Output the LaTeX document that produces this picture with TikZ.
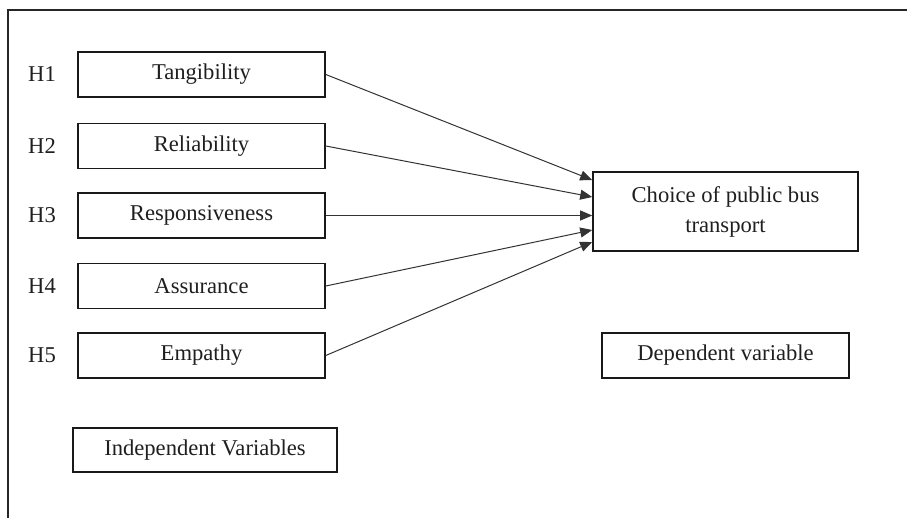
\documentclass[tikz,border=0pt]{standalone}
\usepackage{fontspec}
\setmainfont{Liberation Serif}
\usetikzlibrary{arrows.meta}
\begin{document}
\begin{tikzpicture}[x=1pt,y=-1pt,
  every node/.style={font=\fontsize{22.6}{30}\selectfont, text=black!88},
  varbox/.style={draw=black!90, line width=1.6pt, inner sep=0pt, minimum width=247pt, minimum height=45pt},
  hlabel/.style={inner sep=0pt},
  link/.style={draw=black!80, line width=1pt, -{Triangle[length=12pt,width=10pt]}}]
\useasboundingbox (0,0) rectangle (907,518);
\fill[white] (0,0) rectangle (907,518);
\coordinate (fbl) at (8,518);
\coordinate (ftl) at (8,10);
\coordinate (ftr) at (907,10);
\draw[line width=1.5pt, black!85] (fbl) -- (ftl) -- (ftr);

\node[varbox] (t1) at (201.5,74.5) {Tangibility};
\node[varbox] (t2) at (201.5,146) {Reliability};
\node[varbox] (t3) at (201.5,215.5) {Responsiveness};
\node[varbox] (t4) at (201.5,286) {Assurance};
\node[varbox] (t5) at (201.5,355.5) {Empathy};

\node[hlabel] (h1) at (42,74.5) {H1};
\node[hlabel] (h2) at (42,146) {H2};
\node[hlabel] (h3) at (42,215.5) {H3};
\node[hlabel] (h4) at (42,286) {H4};
\node[hlabel] (h5) at (42,355.5) {H5};

\node[varbox, minimum width=265pt, minimum height=79pt, align=center] (c) at (725.5,211.5) {Choice of public bus\\transport};
\node[varbox] (dv) at (725.5,355.5) {Dependent variable};
\node[varbox, minimum width=264pt, minimum height=44pt] (iv) at (205,450) {Independent Variables};

\draw[link] (t1.east) -- ([yshift=31.5pt]c.west);
\draw[link] (t2.east) -- ([yshift=14.5pt]c.west);
\draw[link] (t3.east) -- ([yshift=-4pt]c.west);
\draw[link] (t4.east) -- ([yshift=-18.5pt]c.west);
\draw[link] (t5.east) -- ([yshift=-30.5pt]c.west);
\end{tikzpicture}
\end{document}
